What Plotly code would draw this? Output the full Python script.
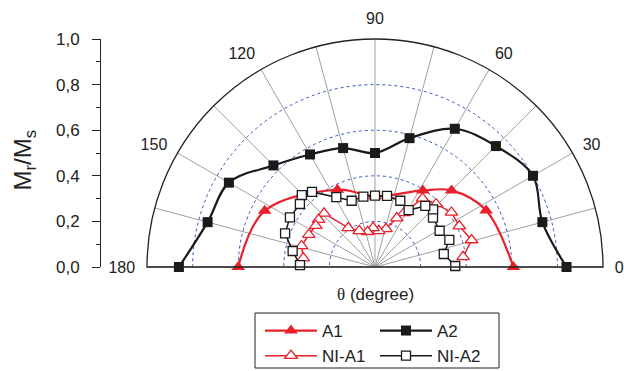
import plotly.graph_objects as go

# ---------------- data ----------------
a2_theta = [0, 15, 30, 45, 60, 75, 90, 105, 120, 135, 150, 165, 180]
a2_r = [0.84, 0.76, 0.80, 0.75, 0.70, 0.585, 0.50, 0.54, 0.57, 0.63, 0.74, 0.76, 0.86]

a1_theta = [0, 27, 45, 58, 90, 116, 153, 180]
a1_r = [0.607, 0.547, 0.475, 0.396, 0.31, 0.377, 0.543, 0.60]

ni_a1_theta = [6.6, 15.6, 25.9, 35.5, 45.9, 55.3, 61.8, 66, 73.9, 84.1, 92.9, 102,
               113.6, 124.3, 133.5, 140, 145, 154, 164, 173]
ni_a1_r = [0.389, 0.44, 0.411, 0.412, 0.385, 0.366, 0.269, 0.235, 0.174, 0.159, 0.172, 0.158,
           0.173, 0.208, 0.324, 0.323, 0.317, 0.323, 0.335, 0.317]

ni_a2_theta = [0.7, 10.7, 20, 29.3, 40.4, 44.8, 50.5, 59.4, 69.1, 80.4, 90, 99.4, 109.4,
               119, 130, 135.5, 140, 149.7, 159.5, 169, 178.5]
ni_a2_r = [0.352, 0.307, 0.347, 0.325, 0.334, 0.359, 0.347, 0.29, 0.311, 0.316, 0.313, 0.313,
           0.308, 0.35, 0.43, 0.45, 0.43, 0.432, 0.421, 0.368, 0.329]

angle_ticks = list(range(0, 181, 15))
angle_labels = [str(a) if a % 30 == 0 else "" for a in angle_ticks]
r_ticks = [0.0, 0.2, 0.4, 0.6, 0.8, 1.0]

RED = "#e8202a"
BLACK = "#1a1a1a"

W, H = 624, 371
fig = go.Figure()

fig.add_trace(go.Scatterpolar(
    r=a2_r, theta=a2_theta, name="A2", mode="lines+markers",
    line=dict(color=BLACK, width=2.2, shape="spline"),
    marker=dict(symbol="square", size=10, color=BLACK),
    legend="legend2"))
fig.add_trace(go.Scatterpolar(
    r=a1_r, theta=a1_theta, name="A1", mode="lines+markers",
    line=dict(color=RED, width=2.2, shape="spline"),
    marker=dict(symbol="triangle-up", size=12, color=RED),
    legend="legend"))
fig.add_trace(go.Scatterpolar(
    r=ni_a1_r, theta=ni_a1_theta, name="NI-A1", mode="lines+markers",
    line=dict(color=RED, width=1.5),
    marker=dict(symbol="triangle-up", size=11, color="white", line=dict(color=RED, width=1.3)),
    legend="legend"))
fig.add_trace(go.Scatterpolar(
    r=ni_a2_r, theta=ni_a2_theta, name="NI-A2", mode="lines+markers",
    line=dict(color=BLACK, width=1.5),
    marker=dict(symbol="square", size=9, color="white", line=dict(color=BLACK, width=1.3)),
    legend="legend2"))

# dummy trace to host the left linear axis
fig.add_trace(go.Scatter(x=[None], y=[None], xaxis="x", yaxis="y", showlegend=False,
                         hoverinfo="skip"))

fig.update_layout(
    width=W, height=H,
    margin=dict(l=0, r=0, t=0, b=0, autoexpand=False),
    paper_bgcolor="white", plot_bgcolor="rgba(0,0,0,0)",
    separators=",.",
    font=dict(family="Liberation Sans, Arial, sans-serif", color="#222"),
    polar=dict(
        domain=dict(x=[147 / W, 603 / W], y=[(H - 267) / H, (H - 39) / H]),
        sector=[0, 180],
        bgcolor="white",
        angularaxis=dict(
            direction="counterclockwise", rotation=0,
            tickmode="array", tickvals=angle_ticks, ticktext=angle_labels,
            showgrid=True, gridcolor="#a0a0a0", gridwidth=1,
            showline=True, linecolor="#222", linewidth=1.3,
            ticks="outside", ticklen=8, tickcolor="rgba(0,0,0,0)",
            tickfont=dict(size=16, color="#222"),
        ),
        radialaxis=dict(
            range=[0, 1], tickmode="array", tickvals=[0.2, 0.4, 0.6, 0.8],
            showticklabels=False, ticks="", showline=False,
            showgrid=True, gridcolor="#3358c0", gridwidth=1, griddash="dot",
        ),
    ),
    xaxis=dict(domain=[101 / W, 0.2], visible=False, range=[0, 1]),
    yaxis=dict(
        domain=[(H - 267) / H, (H - 39) / H], range=[0, 1],
        tickmode="array", tickvals=r_ticks, tickformat=".1f",
        ticks="outside", ticklen=8, tickwidth=1, tickcolor="#222",
        ticklabelstandoff=9,
        showline=True, linecolor="#222", linewidth=1,
        showgrid=False, zeroline=False,
        tickfont=dict(size=17, color="#222"),
        minor=dict(dtick=0.1, ticks="outside", ticklen=4, tickcolor="#222", showgrid=False),
    ),
    legend=dict(x=260 / W, y=(H - 313) / H, xanchor="left", yanchor="top",
                bgcolor="rgba(0,0,0,0)", font=dict(size=17, color="#222"),
                itemwidth=52, tracegroupgap=0),
    legend2=dict(x=375 / W, y=(H - 313) / H, xanchor="left", yanchor="top",
                 bgcolor="rgba(0,0,0,0)", font=dict(size=17, color="#222"),
                 itemwidth=52, tracegroupgap=0),
    shapes=[dict(type="rect", xref="paper", yref="paper",
                 x0=255 / W, x1=499 / W, y0=(H - 368) / H, y1=(H - 313) / H,
                 line=dict(color="#222", width=1))],
    annotations=[
        dict(text="<span style=\"font-family:'Liberation Serif'\">θ</span> (degree)",
             xref="paper", yref="paper", x=375 / W, y=(H - 294) / H,
             xanchor="center", yanchor="middle",
             showarrow=False, font=dict(size=17, color="#222")),
        dict(text="M<sub>r</sub>/M<sub>s</sub>", xref="paper", yref="paper",
             x=6 / W, y=(H - 160) / H, xanchor="left", yanchor="middle",
             textangle=-90, showarrow=False,
             font=dict(size=24, color="#222")),
    ],
)

fig.write_html("out.html")
